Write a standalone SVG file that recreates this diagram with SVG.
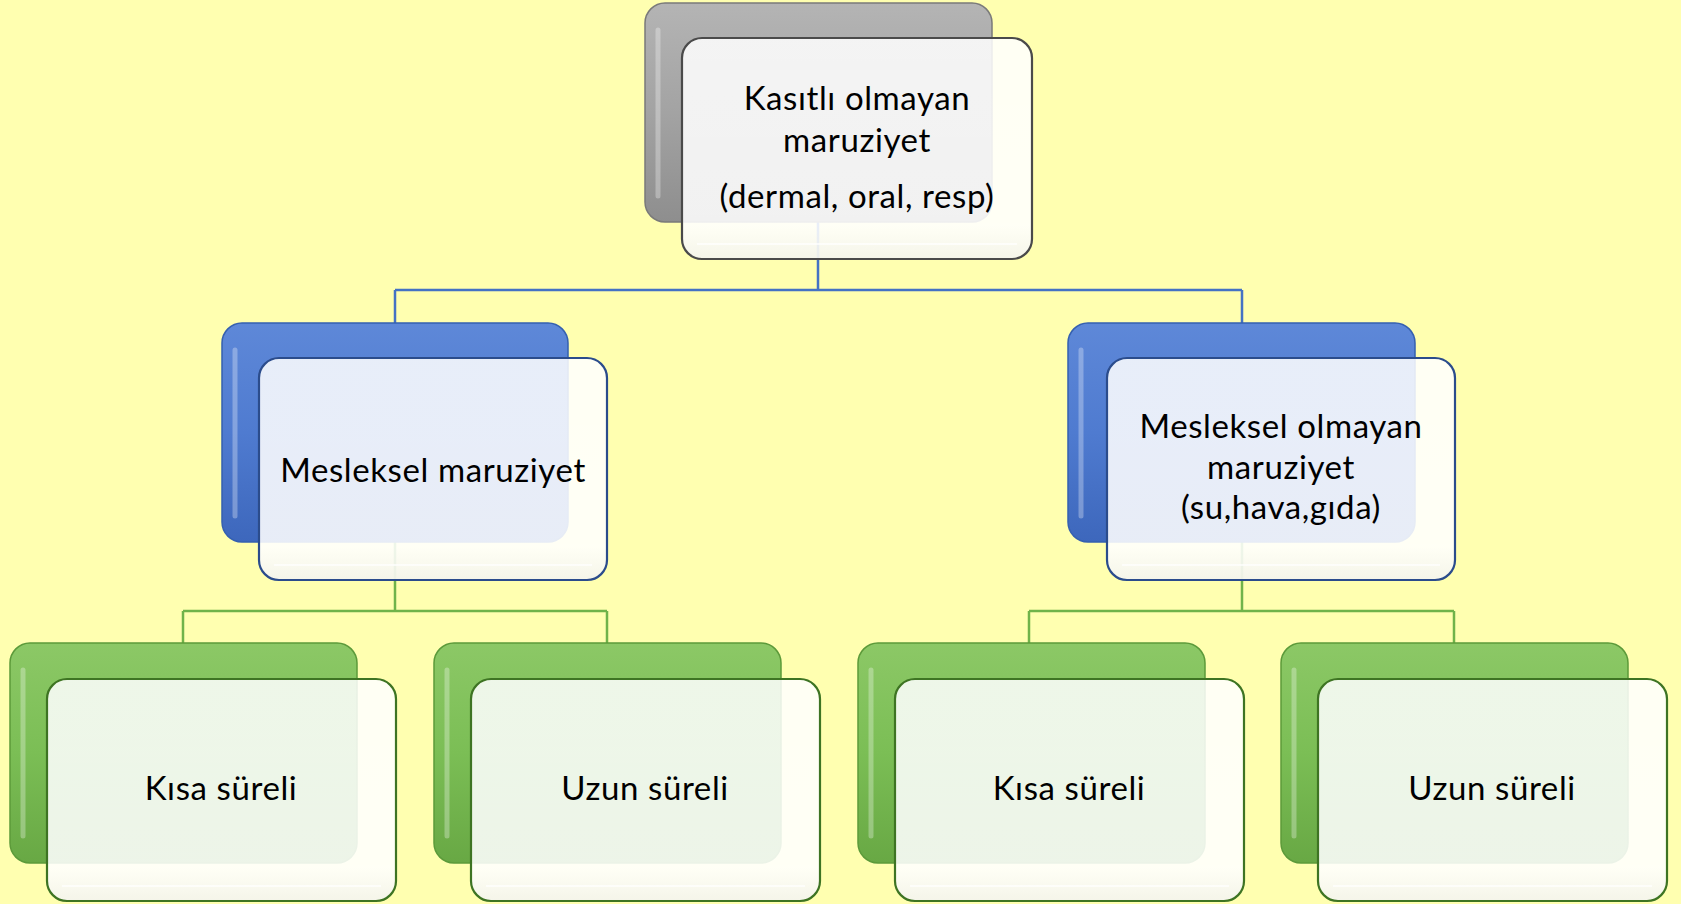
<svg xmlns="http://www.w3.org/2000/svg" width="1681" height="904" viewBox="0 0 1681 904">
<defs>
<linearGradient id="gGray" x1="0" y1="0" x2="0" y2="1"><stop offset="0" stop-color="#B4B4B4"/><stop offset="0.5" stop-color="#A3A3A3"/><stop offset="1" stop-color="#8E8E8E"/></linearGradient>
<linearGradient id="gBlue" x1="0" y1="0" x2="0" y2="1"><stop offset="0" stop-color="#5E88D8"/><stop offset="0.5" stop-color="#4F7BD0"/><stop offset="1" stop-color="#3D67BC"/></linearGradient>
<linearGradient id="gGreen" x1="0" y1="0" x2="0" y2="1"><stop offset="0" stop-color="#8CC866"/><stop offset="0.5" stop-color="#7BBE55"/><stop offset="1" stop-color="#68A844"/></linearGradient>
<linearGradient id="gFront" x1="0" y1="0" x2="0" y2="1"><stop offset="0" stop-color="#FFFFFF" stop-opacity="0.86"/><stop offset="0.85" stop-color="#FFFFFF" stop-opacity="0.88"/><stop offset="1" stop-color="#F4F4EC" stop-opacity="0.95"/></linearGradient>
</defs>
<style>
.bg{fill:#FFFFB0}
.back{stroke-width:1.5}
.gray .back{fill:url(#gGray);stroke:#7A7A7A}
.blue .back{fill:url(#gBlue);stroke:#3560B0}
.green .back{fill:url(#gGreen);stroke:#5C9A3A}
.hl{fill:none;stroke:#FFFFFF;stroke-opacity:0.3;stroke-width:5;stroke-linecap:round}
.front{fill:url(#gFront);stroke-width:2.2}
.gray .front{stroke:#4A4A4A}
.blue .front{stroke:#2B4C8C}
.green .front{stroke:#3E7423}
.inner{fill:none;stroke:#FFFFFF;stroke-opacity:0.7;stroke-width:2}
.t{font-family:Lato,"Open Sans",sans-serif;font-size:33px;letter-spacing:0.6px;fill:#000;text-anchor:middle}
.cb{fill:none;stroke:#4472C4;stroke-width:2.5}
.cg{fill:none;stroke:#70B34A;stroke-width:2.5}
</style>
<rect class="bg" x="0" y="0" width="1681" height="904"/>
<g id="connectors">
<path class="cb" d="M818,222 V290 M395,290 H1242 M395,290 V323 M1242,290 V323"/>
<path class="cg" d="M395,542 V611 M183,611 H607 M183,611 V643 M607,611 V643"/>
<path class="cg" d="M1242,542 V611 M1029,611 H1454 M1029,611 V643 M1454,611 V643"/>
</g>
<g id="n-top" class="gray">
<rect class="back" x="645" y="3" width="347" height="219" rx="20"/>
<path class="hl" d="M658,30 V196"/>
<rect class="front" x="682" y="38" width="350" height="221" rx="20"/>
<path class="inner" d="M697,244 H1017"/>
<text class="t" x="857" y="110">Kasıtlı olmayan</text>
<text class="t" x="857" y="152">maruziyet</text>
<text class="t" x="857" y="208">(dermal, oral, resp)</text>
</g>
<g id="n-mes" class="blue">
<rect class="back" x="222" y="323" width="346" height="219" rx="20"/>
<path class="hl" d="M235,350 V516"/>
<rect class="front" x="259" y="358" width="348" height="222" rx="20"/>
<path class="inner" d="M274,565 H592"/>
<text class="t" x="433" y="482">Mesleksel maruziyet</text>
</g>
<g id="n-nonmes" class="blue">
<rect class="back" x="1068" y="323" width="347" height="219" rx="20"/>
<path class="hl" d="M1081,350 V516"/>
<rect class="front" x="1107" y="358" width="348" height="222" rx="20"/>
<path class="inner" d="M1122,565 H1440"/>
<text class="t" x="1281" y="438">Mesleksel olmayan</text>
<text class="t" x="1281" y="479">maruziyet</text>
<text class="t" x="1281" y="519">(su,hava,gıda)</text>
</g>
<g id="n-k1" class="green">
<rect class="back" x="10" y="643" width="347" height="220" rx="20"/>
<path class="hl" d="M23,670 V836"/>
<rect class="front" x="47" y="679" width="349" height="222" rx="20"/>
<path class="inner" d="M62,886 H381"/>
<text class="t" x="221" y="800">Kısa süreli</text>
</g>
<g id="n-u1" class="green">
<rect class="back" x="434" y="643" width="347" height="220" rx="20"/>
<path class="hl" d="M447,670 V836"/>
<rect class="front" x="471" y="679" width="349" height="222" rx="20"/>
<path class="inner" d="M486,886 H805"/>
<text class="t" x="645" y="800">Uzun süreli</text>
</g>
<g id="n-k2" class="green">
<rect class="back" x="858" y="643" width="347" height="220" rx="20"/>
<path class="hl" d="M871,670 V836"/>
<rect class="front" x="895" y="679" width="349" height="222" rx="20"/>
<path class="inner" d="M910,886 H1229"/>
<text class="t" x="1069" y="800">Kısa süreli</text>
</g>
<g id="n-u2" class="green">
<rect class="back" x="1281" y="643" width="347" height="220" rx="20"/>
<path class="hl" d="M1294,670 V836"/>
<rect class="front" x="1318" y="679" width="349" height="222" rx="20"/>
<path class="inner" d="M1333,886 H1652"/>
<text class="t" x="1492" y="800">Uzun süreli</text>
</g>
</svg>
